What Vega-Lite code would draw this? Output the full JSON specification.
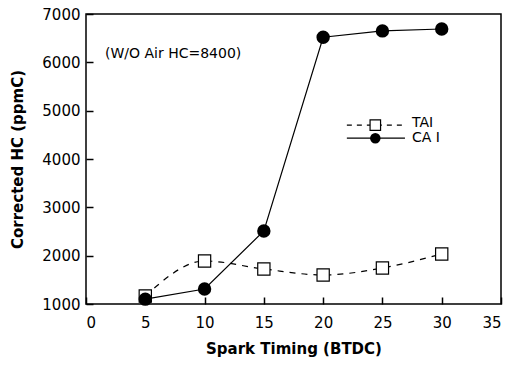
{
  "$schema": "https://vega.github.io/schema/vega-lite/v6.json",
  "width": 415,
  "height": 290,
  "autosize": {"type": "none"},
  "padding": {"left": 86, "top": 14, "right": 7, "bottom": 62},
  "background": "white",
  "config": {
    "font": "DejaVu Sans",
    "view": {"stroke": "black", "strokeWidth": 1.5},
    "axis": {
      "grid": false,
      "domain": false,
      "ticks": true,
      "tickColor": "black",
      "tickWidth": 1.5,
      "labelColor": "black",
      "labelFont": "DejaVu Sans",
      "labelFontSize": 15,
      "titleFont": "DejaVu Sans",
      "titleFontSize": 15,
      "titleFontWeight": "bold",
      "titleColor": "black",
      "format": "d"
    }
  },
  "data": {
    "values": [
      {"timing": 5, "hc": 1165, "series": "TAI"},
      {"timing": 10, "hc": 1890, "series": "TAI"},
      {"timing": 15, "hc": 1725, "series": "TAI"},
      {"timing": 20, "hc": 1600, "series": "TAI"},
      {"timing": 25, "hc": 1745, "series": "TAI"},
      {"timing": 30, "hc": 2035, "series": "TAI"},
      {"timing": 5, "hc": 1100, "series": "CA I"},
      {"timing": 10, "hc": 1310, "series": "CA I"},
      {"timing": 15, "hc": 2510, "series": "CA I"},
      {"timing": 20, "hc": 6520, "series": "CA I"},
      {"timing": 25, "hc": 6650, "series": "CA I"},
      {"timing": 30, "hc": 6690, "series": "CA I"}
    ]
  },
  "encoding": {
    "x": {
      "field": "timing", "type": "quantitative",
      "scale": {"domain": [0, 35], "nice": false, "zero": false},
      "axis": {"values": [0, 5, 10, 15, 20, 25, 30, 35], "format": "d", "tickSize": -7, "labelPadding": 18, "title": "Spark Timing (BTDC)", "titlePadding": 11}
    },
    "y": {
      "field": "hc", "type": "quantitative",
      "scale": {"domain": [1000, 7000], "nice": false, "zero": false},
      "axis": {"values": [1000, 2000, 3000, 4000, 5000, 6000, 7000], "format": "d", "tickSize": -7, "labelPadding": 13, "title": "Corrected HC (ppmC)", "titlePadding": 16}
    }
  },
  "layer": [
    {
      "transform": [{"filter": "datum.series == 'TAI'"}],
      "mark": {"type": "line", "interpolate": "monotone", "color": "black", "strokeWidth": 1.2, "strokeDash": [6, 6]}
    },
    {
      "transform": [{"filter": "datum.series == 'CA I'"}],
      "mark": {"type": "line", "color": "black", "strokeWidth": 1.2}
    },
    {
      "transform": [{"filter": "datum.series == 'TAI'"}],
      "mark": {"type": "point", "shape": "square", "size": 150, "filled": true, "fill": "white", "stroke": "black", "strokeWidth": 1.2, "opacity": 1}
    },
    {
      "transform": [{"filter": "datum.series == 'CA I'"}],
      "mark": {"type": "point", "shape": "circle", "size": 130, "filled": true, "fill": "black", "stroke": "black", "opacity": 1}
    },
    {
      "transform": [{"filter": "datum.series == 'TAI' && datum.timing == 5"}],
      "mark": {"type": "rule", "color": "black", "strokeWidth": 1.2, "strokeDash": [5, 5]},
      "encoding": {"x": {"datum": 22.0}, "x2": {"datum": 26.9}, "y": {"datum": 4700}}
    },
    {
      "transform": [{"filter": "datum.series == 'CA I' && datum.timing == 5"}],
      "mark": {"type": "rule", "color": "black", "strokeWidth": 1.2},
      "encoding": {"x": {"datum": 22.0}, "x2": {"datum": 26.9}, "y": {"datum": 4430}}
    },
    {
      "transform": [{"filter": "datum.series == 'TAI' && datum.timing == 5"}],
      "mark": {"type": "point", "shape": "square", "size": 110, "filled": true, "fill": "white", "stroke": "black", "strokeWidth": 1.2, "opacity": 1},
      "encoding": {"x": {"datum": 24.4}, "y": {"datum": 4700}}
    },
    {
      "transform": [{"filter": "datum.series == 'CA I' && datum.timing == 5"}],
      "mark": {"type": "point", "shape": "circle", "size": 110, "filled": true, "fill": "black", "opacity": 1},
      "encoding": {"x": {"datum": 24.4}, "y": {"datum": 4430}}
    },
    {
      "transform": [{"filter": "datum.series == 'TAI' && datum.timing == 5"}],
      "mark": {"type": "text", "align": "left", "baseline": "middle", "fontSize": 14, "fontWeight": "normal", "font": "DejaVu Sans", "color": "black"},
      "encoding": {"x": {"datum": 27.5}, "y": {"datum": 4740}, "text": {"field": "series"}}
    },
    {
      "transform": [{"filter": "datum.series == 'CA I' && datum.timing == 5"}],
      "mark": {"type": "text", "align": "left", "baseline": "middle", "fontSize": 14, "fontWeight": "normal", "font": "DejaVu Sans", "color": "black"},
      "encoding": {"x": {"datum": 27.5}, "y": {"datum": 4440}, "text": {"field": "series"}}
    },
    {
      "transform": [{"filter": "datum.series == 'TAI' && datum.timing == 5"}],
      "mark": {"type": "text", "align": "left", "baseline": "middle", "fontSize": 14, "fontWeight": "normal", "font": "DejaVu Sans", "color": "black"},
      "encoding": {"x": {"datum": 1.6}, "y": {"datum": 6170}, "text": {"value": "(W/O Air HC=8400)"}}
    }
  ]
}
